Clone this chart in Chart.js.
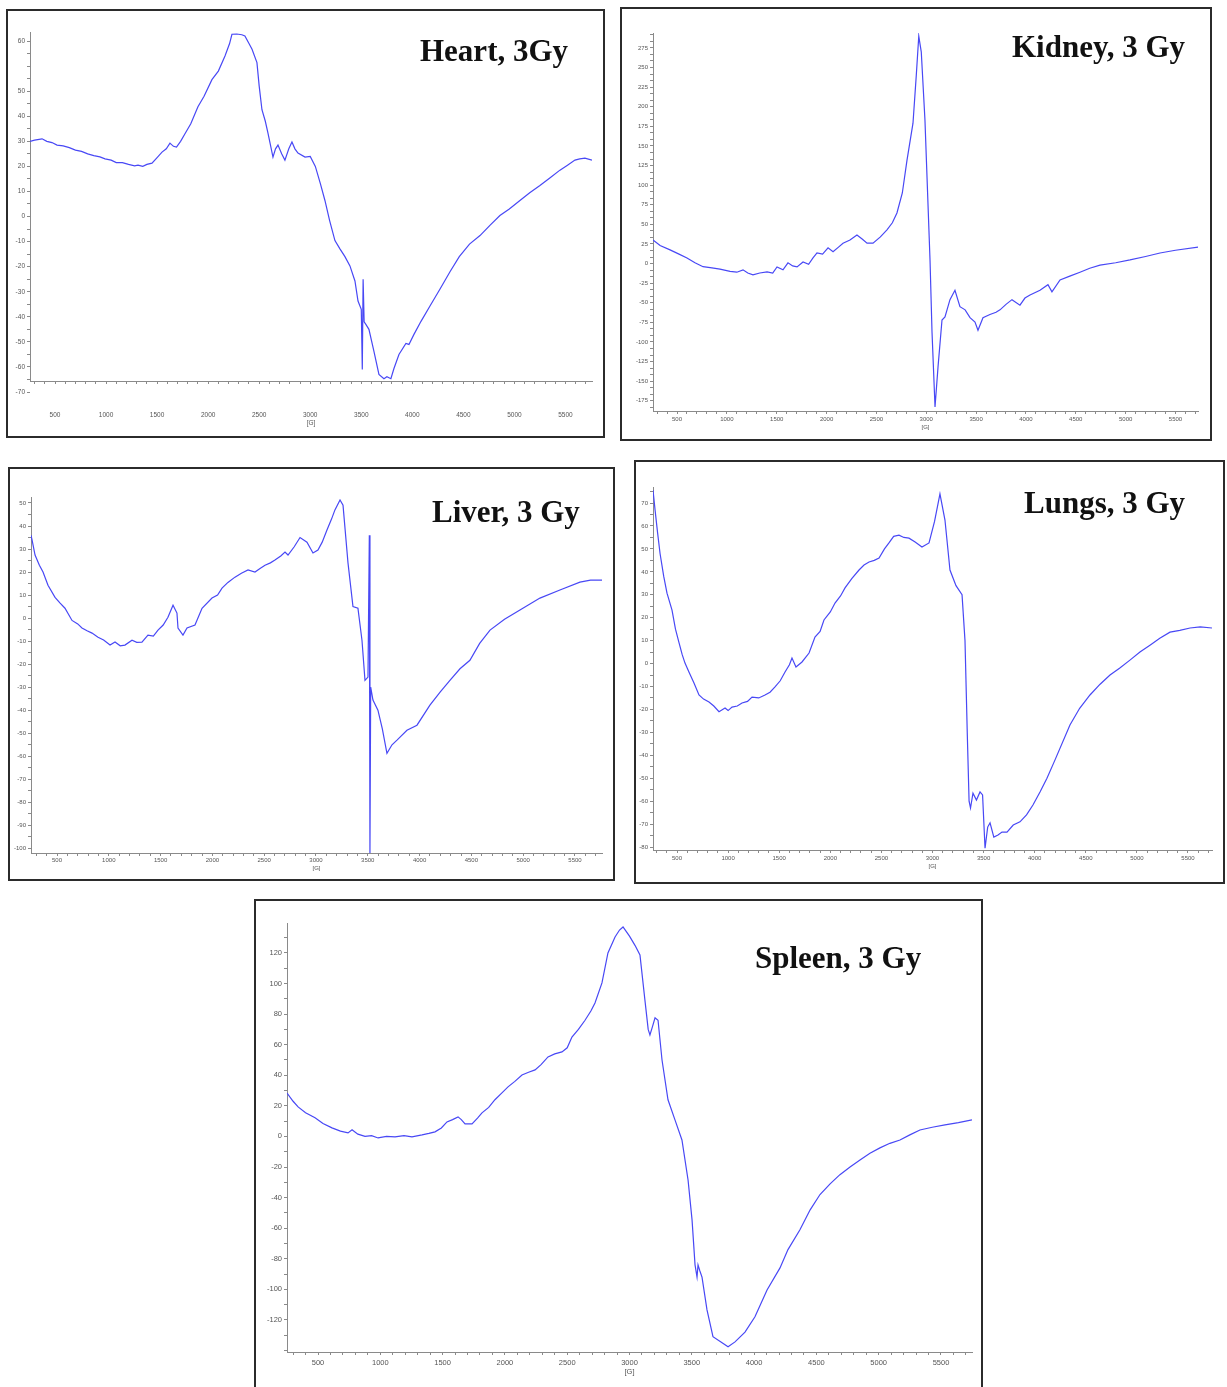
<!DOCTYPE html>
<html>
<head>
<meta charset="utf-8">
<title>EPR spectra, 3 Gy</title>
<script src="https://cdn.jsdelivr.net/npm/chart.js@4.4.1/dist/chart.umd.min.js"></script>
<style>
    body { margin: 0; background: #fff; width: 1227px; height: 1387px; position: relative; overflow: hidden; }
    .box { position: absolute; box-sizing: border-box; border: 2px solid #2b2b2b; }
    canvas { position: absolute; }
    .label { position: absolute; font-family: 'Liberation Serif', 'Times New Roman', serif; font-weight: bold;
             font-size: 31px; line-height: 1; color: #111; white-space: nowrap; }
</style>
</head>
<body>
<script>
// magnetic field ticks [G], shared by all panels
const fieldTicks = [500, 1000, 1500, 2000, 2500, 3000, 3500, 4000, 4500, 5000, 5500];

// Heart
const heartField = [
    255, 300, 373, 420, 470, 520, 580, 640, 700, 760,
    820, 880, 940, 990, 1050, 1100, 1160, 1220, 1280, 1313,
    1360, 1400, 1450, 1500, 1548, 1590, 1626, 1660, 1690, 1730,
    1773, 1830, 1900, 1960, 2037, 2100, 2165, 2210, 2233, 2280,
    2330, 2360, 2400, 2430, 2478, 2500, 2527, 2560, 2586, 2635,
    2660, 2684, 2720, 2752, 2790, 2821, 2850, 2880, 2949, 3000,
    3050, 3100, 3144, 3190, 3242, 3291, 3340, 3389, 3438, 3468,
    3500, 3510, 3518, 3528, 3545, 3575, 3624, 3673, 3722, 3751,
    3790, 3820, 3869, 3937, 3967, 4016, 4085, 4173, 4270, 4369,
    4460, 4560, 4663, 4760, 4858, 4950, 5054, 5150, 5250, 5350,
    5446, 5520, 5593, 5640, 5691, 5760
];
const heartSignal = [
    30, 30.5, 31, 30, 29.5, 28.5, 28.2, 27.5, 26.5, 26,
    25, 24.3, 23.8, 23, 22.5, 21.5, 21.5, 20.8, 20.2, 20.5,
    20, 20.8, 21.3, 23.5, 25.7, 27, 29.3, 28, 27.7, 30,
    33, 37, 43.8, 48, 54.6, 58, 64, 69, 72.7, 72.8,
    72.5, 72, 69, 66.7, 61.4, 52, 42.6, 38, 33.3, 23.7,
    27, 28.5, 25, 22.5, 27, 29.7, 27, 25.3, 23.7, 24,
    20, 13, 6.4, -1.6, -9.6, -12.9, -16, -19.7, -25.7, -33.7,
    -37, -61, -25, -42, -43, -45, -53.8, -63, -64.7, -63.9,
    -64.7, -60.6, -55, -50.6, -51, -47, -41.8, -35.7, -29, -22,
    -16, -11, -7.6, -3.5, 0.4, 3, 6.4, 9.5, 12.4, 15.5,
    18.5, 20.5, 22.5, 23, 23.3, 22.5
];
const heartTicks = [70, 50, 40, 30, 20, 10, 0, -10, -20, -30, -40, -50, -60, -70];
const heartTickLabels = ['60', '50', '40', '30', '20', '10', '0', '-10', '-20', '-30', '-40', '-50', '-60', '-70'];

// Kidney
const kidneyField = [
    259, 330, 430, 520, 600, 680, 761, 850, 931, 1032,
    1100, 1162, 1210, 1262, 1330, 1403, 1460, 1503, 1563, 1613,
    1660, 1704, 1764, 1820, 1864, 1904, 1960, 2015, 2065, 2120,
    2165, 2235, 2305, 2360, 2406, 2466, 2540, 2606, 2660, 2706,
    2760, 2807, 2867, 2900, 2925, 2950, 2987, 3038, 3058, 3088,
    3118, 3158, 3188, 3238, 3288, 3338, 3390, 3439, 3489, 3519,
    3569, 3639, 3700, 3740, 3800, 3860, 3940, 3990, 4041, 4141,
    4221, 4261, 4342, 4440, 4542, 4640, 4743, 4900, 5044, 5200,
    5345, 5500, 5726
];
const kidneySignal = [
    30, 23, 17.4, 12, 7, 1, -4, -5.6, -7, -10,
    -11, -8, -12, -14.5, -12, -10.7, -12, -4.3, -8, 1,
    -3, -4.3, 2, -1, 7.2, 13.5, 12, 20, 15, 21,
    26, 30, 36.5, 31, 26, 26, 34, 43, 52, 64.5,
    90, 132, 179, 240, 290, 270, 183, 4, -88, -183,
    -132, -72, -68, -46, -34, -55, -59, -69, -74.5, -85,
    -69, -65, -62, -59, -52, -46, -53, -44, -40, -34,
    -27, -36, -21, -16, -11, -6, -2, 1, 4.6, 9,
    13.5, 17, 21
];
const kidneyTicks = [275, 250, 225, 200, 175, 150, 125, 100, 75, 50, 25, 0, -25, -50, -75, -100, -125, -150, -175];
const kidneyTickLabels = kidneyTicks.map(String);

// Liver
const liverField = [
    249, 259, 288, 330, 365, 413, 481, 530, 577, 645,
    700, 741, 790, 838, 896, 950, 1012, 1060, 1110, 1156,
    1224, 1270, 1320, 1378, 1430, 1475, 1525, 1571, 1620, 1658,
    1668, 1716, 1755, 1832, 1900, 1996, 2050, 2093, 2150, 2218,
    2280, 2344, 2411, 2460, 2508, 2560, 2604, 2660, 2701, 2730,
    2790, 2846, 2913, 2971, 3019, 3060, 3106, 3150, 3183, 3232,
    3261, 3309, 3357, 3405, 3444, 3473, 3502, 3515, 3521, 3528,
    3550, 3598, 3640, 3685, 3734, 3782, 3878, 3975, 4100, 4200,
    4293, 4390, 4486, 4580, 4680, 4820, 4969, 5162, 5355, 5548,
    5650, 5761
];
const liverSignal = [
    36, 34, 27.4, 23, 20, 14.3, 9, 6.5, 4.3, -1,
    -2.5, -4.3, -5.5, -6.5, -8.3, -9.5, -11.7, -10.4, -12, -11.7,
    -9.6, -10.5, -10.4, -7.4, -7.8, -5.2, -3, 0.4, 5.6, 2.2,
    -4.3, -7.4, -4.3, -3, 4.3, 8.7, 10, 13, 15.5, 17.8,
    19.5, 20.9, 20, 21.5, 23, 24, 25.2, 27, 28.7, 27.4,
    31, 35, 33, 28.3, 29.6, 33, 38.3, 43, 47, 51.3,
    49, 24, 5, 4.3, -9.6, -27, -25.6, 36, -102, -30,
    -35.6, -40, -48, -58.7, -55, -53, -48.7, -46.5, -37.8, -32,
    -27, -22, -18.3, -11, -5.2, -0.5, 3.5, 8.7, 12.2, 15.6,
    16.5, 16.5
];
const liverTicks = [50, 40, 30, 20, 10, 0, -10, -20, -30, -40, -50, -60, -70, -80, -90, -100];
const liverTickLabels = liverTicks.map(String);

// Lungs
const lungsField = [
    265, 285, 310, 334, 370, 402, 451, 485, 520, 550,
    578, 620, 666, 715, 760, 813, 860, 911, 970, 1000,
    1038, 1090, 1136, 1190, 1234, 1300, 1361, 1410, 1459, 1510,
    1557, 1600, 1625, 1664, 1723, 1792, 1850, 1900, 1938, 2000,
    2046, 2100, 2144, 2210, 2281, 2330, 2379, 2430, 2477, 2530,
    2574, 2620, 2672, 2720, 2770, 2830, 2897, 2966, 3020, 3073,
    3122, 3171, 3230, 3289, 3318, 3340, 3358, 3372, 3396, 3430,
    3465, 3490, 3514, 3540, 3563, 3600, 3641, 3680, 3729, 3790,
    3856, 3920, 3983, 4052, 4120, 4199, 4345, 4440, 4541, 4640,
    4737, 4830, 4932, 5030, 5128, 5224, 5324, 5420, 5520, 5620,
    5735
];
const lungsSignal = [
    75.7, 67, 57, 48, 38, 30.7, 23.3, 15, 9, 4,
    0.2, -4, -8.5, -13.7, -15.5, -16.8, -18.5, -21, -19.4, -20.5,
    -19, -18.5, -17.2, -16.5, -14.6, -15, -13.7, -12.5, -10.2, -7.5,
    -3.7, -0.5, 2.4, -1.5, 0.7, 4.6, 11.6, 14, 19, 22.5,
    26.4, 29.5, 33, 37, 40.8, 43, 44.3, 45, 46, 50,
    52.6, 55.5, 56, 55, 54.7, 53, 50.8, 52.6, 62, 74,
    62.6, 40.8, 34, 30, 10, -30, -60, -63, -56.5, -59.5,
    -56, -57.3, -80.5, -71.3, -69.5, -75.7, -74.8, -73.5, -73.5, -70.4,
    -69, -66, -61.7, -56, -50, -42, -26.8, -19.5, -13.7, -9,
    -5, -2, 1.5, 5, 8, 11, 13.7, 14.5, 15.5, 16,
    15.5
];
const lungsTicks = [70, 60, 50, 40, 30, 20, 10, 0, -10, -20, -30, -40, -50, -60, -70, -80];
const lungsTickLabels = lungsTicks.map(String);

// Spleen
const spleenField = [
    251, 300, 340, 400, 476, 540, 612, 680, 741, 773,
    820, 877, 930, 982, 1050, 1118, 1190, 1254, 1335, 1390,
    1439, 1490, 1535, 1580, 1624, 1650, 1680, 1736, 1780, 1816,
    1870, 1920, 1970, 2025, 2080, 2137, 2190, 2242, 2290, 2346,
    2400, 2458, 2500, 2538, 2590, 2643, 2690, 2723, 2779, 2827,
    2884, 2920, 2948, 3000, 3044, 3084, 3124, 3150, 3164, 3185,
    3205, 3229, 3261, 3309, 3365, 3421, 3470, 3502, 3526, 3542,
    3550, 3565, 3582, 3622, 3670, 3743, 3791, 3847, 3927, 4007,
    4104, 4208, 4272, 4368, 4450, 4529, 4610, 4689, 4770, 4850,
    4930, 5010, 5090, 5171, 5250, 5331, 5430, 5532, 5640, 5749
];
const spleenSignal = [
    28.4, 23, 19.3, 15.5, 12.2, 8.5, 5.6, 3.5, 2.3, 4.3,
    1.5, 0, 0.5, -1, 0, -0.3, 0.5, -0.3, 1, 2,
    3, 5.5, 9.5, 11, 12.8, 11, 8.2, 8.2, 12, 15.4,
    19, 24, 28, 32.4, 36, 40.2, 42, 43.5, 47, 52,
    54, 55.3, 58, 65, 70, 76, 82, 87.3, 100.4, 120,
    130.5, 135, 137, 131, 125, 118.7, 89, 70, 66.4, 72,
    77.6, 76, 50, 24, 10.8, -2.3, -28.5, -54.6, -84, -92,
    -84, -88, -92, -113.5, -131, -135, -137.6, -134.4, -128, -118,
    -100.4, -86, -74, -61, -48, -38, -31, -25, -20, -15.4,
    -11, -7.5, -4.5, -2.3, 1, 4.2, 6, 7.5, 9, 10.8
];
const spleenTicks = [120, 100, 80, 60, 40, 20, 0, -20, -40, -60, -80, -100, -120];
const spleenTickLabels = spleenTicks.map(String);

// layout: box = outer frame [l, t, r, b], plot = axis rectangle [l, t, r, b] (page px)
const panels = [
    { title: 'Heart, 3Gy', titleAt: [420, 35], box: [6, 9, 605, 438], plot: [30, 32, 592, 381],
      field: heartField, signal: heartSignal, yTicks: heartTicks, yLabels: heartTickLabels, yMinor: 5,
      xMin: 255, xMax: 5760, yMin: -65.6, yMax: 73.6, labelY: 415, unitY: 423, font: 6.5 },
    { title: 'Kidney, 3 Gy', titleAt: [1012, 31], box: [620, 7, 1212, 441], plot: [653, 33, 1198, 411],
      field: kidneyField, signal: kidneySignal, yTicks: kidneyTicks, yLabels: kidneyTickLabels, yMinor: 25 / 3,
      xMin: 259, xMax: 5726, yMin: -188, yMax: 294, labelY: 420, unitY: 427, font: 6 },
    { title: 'Liver, 3 Gy', titleAt: [432, 496], box: [8, 467, 615, 881], plot: [31, 497, 602, 853],
      field: liverField, signal: liverSignal, yTicks: liverTicks, yLabels: liverTickLabels, yMinor: 5,
      xMin: 249, xMax: 5761, yMin: -102, yMax: 52.6, labelY: 861, unitY: 868, font: 6 },
    { title: 'Lungs, 3 Gy', titleAt: [1024, 487], box: [634, 460, 1225, 884], plot: [653, 487, 1212, 850],
      field: lungsField, signal: lungsSignal, yTicks: lungsTicks, yLabels: lungsTickLabels, yMinor: 5,
      xMin: 265, xMax: 5735, yMin: -81.3, yMax: 77, labelY: 859, unitY: 866, font: 6 },
    { title: 'Spleen, 3 Gy', titleAt: [755, 942], box: [254, 899, 983, 1395], plot: [287, 923, 972, 1352],
      field: spleenField, signal: spleenSignal, yTicks: spleenTicks, yLabels: spleenTickLabels, yMinor: 10,
      xMin: 251, xMax: 5749, yMin: -141, yMax: 139.6, labelY: 1362, unitY: 1372, font: 7.5 }
];

const axisColor = '#8a8a8a';
const textColor = '#555';
const lineColor = 'rgb(72, 72, 245)';
const tickLen = 3;

function buildTicks(min, max, step, majors) {
    const out = [];
    for (let k = Math.ceil(min / step - 1e-9); k * step <= max + 1e-9; k++) {
        out.push(+(k * step).toFixed(6));
    }
    majors.forEach(v => { if (!out.some(t => Math.abs(t - v) < 1e-6)) out.push(v); });
    return out.sort((a, b) => a - b).map(v => ({ value: v }));
}

function labelFor(value, ticks, labels) {
    const i = ticks.findIndex(t => Math.abs(t - value) < 1e-6);
    return i >= 0 ? labels[i] : '';
}

function makePanel(p) {
    const [bl, bt, br, bb] = p.box;
    const frame = document.createElement('div');
    frame.className = 'box';
    Object.assign(frame.style, { left: bl + 'px', top: bt + 'px', width: (br - bl) + 'px', height: (bb - bt) + 'px' });
    document.body.appendChild(frame);

    // canvas covers the inside of the frame
    const cl = bl + 2, ct = bt + 2, cw = br - bl - 4, ch = bb - bt - 4;
    const canvas = document.createElement('canvas');
    canvas.width = cw;
    canvas.height = ch;
    Object.assign(canvas.style, { left: cl + 'px', top: ct + 'px', width: cw + 'px', height: ch + 'px' });
    document.body.appendChild(canvas);

    const [pl, pt, pr, pb] = p.plot;
    const fieldLabels = fieldTicks.map(String);

    // a big tick padding would also widen the side padding of the x axis,
    // so a long drop below the axis is done with empty label lines instead
    const lineH = p.font * 1.2;
    const gap = p.labelY - pb - tickLen - 4;
    const blankLines = gap > 10 ? Math.floor(gap / lineH) : 0;
    const tickPad = gap - blankLines * lineH;

    new Chart(canvas.getContext('2d'), {
        type: 'line',
        data: {
            datasets: [{
                data: p.field.map((g, i) => ({ x: g, y: p.signal[i] })),
                borderColor: lineColor,
                borderWidth: 1.2,
                pointRadius: 0,
                tension: 0,
                fill: false
            }]
        },
        options: {
            responsive: false,
            animation: false,
            devicePixelRatio: 1,
            layout: { padding: { left: 0, top: pt - ct, right: (cl + cw) - pr, bottom: 0 } },
            plugins: { legend: { display: false }, tooltip: { enabled: false } },
            scales: {
                x: {
                    type: 'linear',
                    min: p.xMin,
                    max: p.xMax,
                    afterFit: s => { s.height = (ct + ch) - pb; },
                    afterBuildTicks: s => { s.ticks = buildTicks(p.xMin, p.xMax, 100, fieldTicks); },
                    ticks: {
                        autoSkip: false, maxRotation: 0, minRotation: 0,
                        padding: tickPad,
                        color: textColor,
                        font: { size: p.font, family: 'Liberation Sans' },
                        callback: v => {
                            const text = labelFor(v, fieldTicks, fieldLabels);
                            if (!text || !blankLines) return text;
                            return Array(blankLines).fill('').concat(text);
                        }
                    },
                    grid: { drawOnChartArea: false, drawTicks: true, tickLength: tickLen, color: axisColor },
                    border: { display: true, color: axisColor },
                    title: {
                        display: true, text: '[G]', color: textColor,
                        font: { size: p.font, family: 'Liberation Sans' },
                        padding: { top: 0, bottom: (ct + ch) - p.unitY - 4 }
                    }
                },
                y: {
                    type: 'linear',
                    min: p.yMin,
                    max: p.yMax,
                    afterFit: s => { s.width = pl - cl; },
                    afterBuildTicks: s => { s.ticks = buildTicks(p.yMin, p.yMax, p.yMinor, p.yTicks); },
                    ticks: {
                        autoSkip: false,
                        padding: 2,
                        color: textColor,
                        font: { size: p.font, family: 'Liberation Sans' },
                        callback: v => labelFor(v, p.yTicks, p.yLabels)
                    },
                    grid: { drawOnChartArea: false, drawTicks: true, tickLength: tickLen, color: axisColor },
                    border: { display: true, color: axisColor }
                }
            }
        }
    });

    const title = document.createElement('div');
    title.className = 'label';
    title.textContent = p.title;
    Object.assign(title.style, { left: p.titleAt[0] + 'px', top: p.titleAt[1] + 'px' });
    document.body.appendChild(title);
}

panels.forEach(makePanel);
</script>
</body>
</html>
